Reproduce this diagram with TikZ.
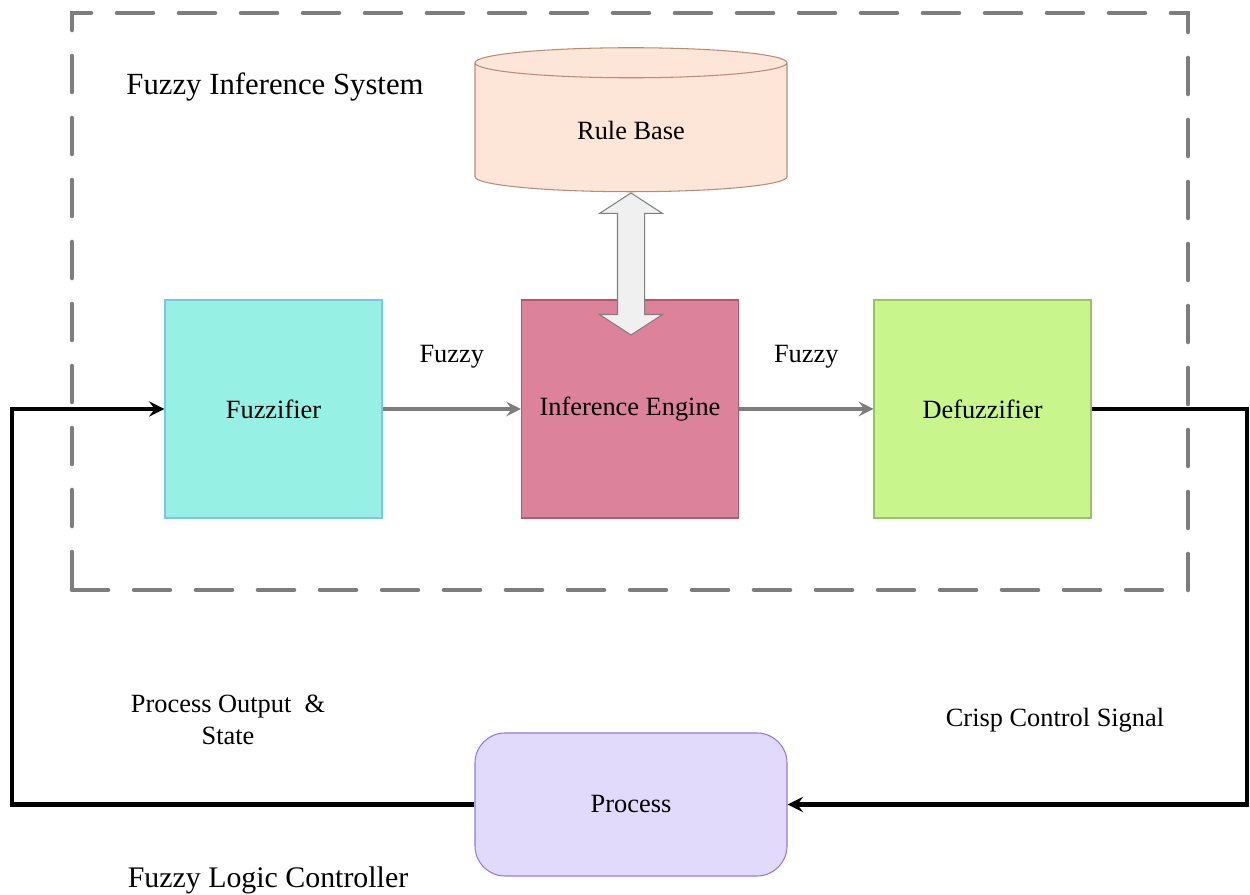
\documentclass[tikz,border=0pt]{standalone}
\usepackage{fontspec}
\setmainfont{Liberation Serif}
\usepackage{tikz}
\usetikzlibrary{positioning}
\usetikzlibrary{shapes,arrows}
\definecolor{fuzzfill}{RGB}{150,240,228}
\definecolor{fuzzdraw}{RGB}{120,200,225}
\definecolor{inffill}{RGB}{220,130,155}
\definecolor{infdraw}{RGB}{185,85,115}
\definecolor{defill}{RGB}{200,245,140}
\definecolor{dedraw}{RGB}{150,195,100}
\definecolor{rbfill}{RGB}{253,229,215}
\definecolor{rbdraw}{RGB}{185,140,120}
\definecolor{prfill}{RGB}{225,218,250}
\definecolor{prdraw}{RGB}{150,120,220}
\definecolor{framegray}{RGB}{125,125,125}
\tikzstyle{stage} = [rectangle, draw, line width=0.6pt, minimum width=4.34cm, minimum height=4.36cm, text centered]
\tikzstyle{database} = [cylinder, shape border rotate=90, aspect=0.24, draw=rbdraw, fill=rbfill, line width=0.6pt,
    minimum width=6.24cm, minimum height=2.88cm, text centered]
\tikzstyle{plant} = [rectangle, draw=prdraw, fill=prfill, line width=0.6pt, rounded corners=0.6cm,
    minimum width=6.24cm, minimum height=2.86cm, text centered]
\tikzstyle{frame} = [rectangle, draw=framegray, line width=2.6pt, line cap=round, dash pattern=on 0.72cm off 0.52cm,
    minimum width=22.32cm, minimum height=11.54cm]
\tikzstyle{flow} = [line width=2.6pt, draw=framegray, ->, >=stealth]
\tikzstyle{feedback} = [line width=2.8pt, ->, >=stealth]
\tikzstyle{link} = [double arrow, draw=gray, fill=gray!12, line width=0.6pt, rotate=90, inner xsep=0pt, inner ysep=0.26cm,
    double arrow head extend=0.36cm, double arrow tip angle=114, minimum width=1.24cm, minimum height=2.84cm]

\begin{document}
\begin{tikzpicture}[node distance = 7.1cm]
\fontsize{15}{18}\selectfont
\useasboundingbox (0,0) rectangle (25,17.9);

\node (fis) [frame] at (12.6,11.87) {};
\node (fuzz) [stage, draw=fuzzdraw, fill=fuzzfill] at (5.47,9.72) {Fuzzifier};
\node (infer) [stage, draw=infdraw, fill=inffill, right of=fuzz, xshift=0.03cm] {Inference Engine};
\node (defuzz) [stage, draw=dedraw, fill=defill, right of=infer, xshift=-0.05cm] {Defuzzifier};
\node (rules) [database] at (12.62,15.3) {Rule Base};
\node (rbarrow) [link] at (12.62,12.62) {};
\node (proc) [plant] at (12.62,1.81) {Process};
\node[coordinate] (bl1) at (0.24,1.81) {};
\node[coordinate] (br1) at (24.94,1.81) {};

\node (fistitle) at (5.5,16.16) {\fontsize{17.5}{21}\selectfont Fuzzy Inference System};
\node (flctitle) at (5.36,0.3) {\fontsize{17}{21}\selectfont Fuzzy Logic Controller};
\node (outlbl) [align=center] at (4.56,3.5) {Process Output \ \&\\State};
\node (crisplbl) at (21.1,3.5) {Crisp Control Signal};

\draw [flow] (fuzz) -- node[anchor=south, yshift=0.6cm] {Fuzzy} (infer);
\draw [flow] (infer) -- node[anchor=south, yshift=0.6cm] {Fuzzy} (defuzz);
\draw [feedback] (proc) -- (bl1) |- (fuzz);
\draw [feedback] (defuzz) -| (br1) -- (proc);
\end{tikzpicture}
\end{document}
